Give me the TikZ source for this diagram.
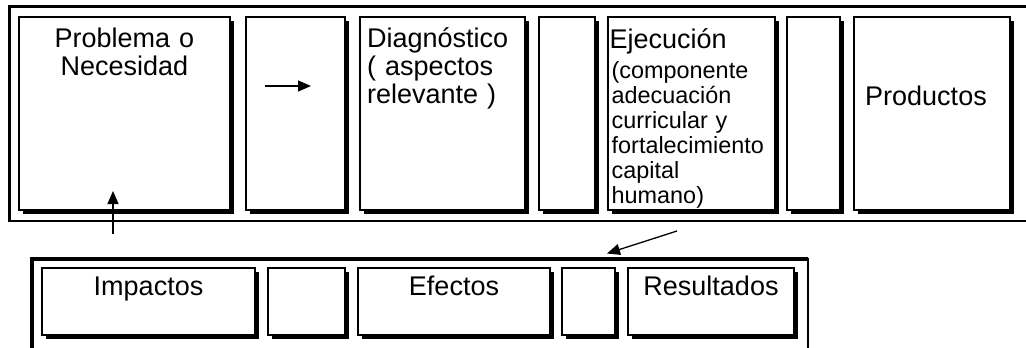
\documentclass[tikz,border=0pt]{standalone}
\usepackage{fontspec}
\setmainfont{Liberation Sans}
\usetikzlibrary{positioning,shadows,arrows.meta}

\begin{document}
\begin{tikzpicture}[x=1pt, y=-1pt,
    celda/.style={rectangle, draw, line width=1.5pt, fill=white, inner sep=0pt, outer sep=0pt,
        drop shadow={shadow xshift=3.5pt, shadow yshift=-3.5pt, fill=black, opacity=1}},
    alta/.style={celda, minimum height=193pt},
    baja/.style={celda, minimum height=67pt},
    texto/.style={inner sep=0pt, text height=19.3pt, align=center, font=\fontsize{27}{28}\selectfont},
    chico/.style={inner sep=0pt, text height=16.8pt, align=left, font=\fontsize{23.4}{25}\selectfont},
    marco/.style={line width=3.5pt},
    flecha/.style={line width=1.3pt, -{Triangle[length=13pt, width=11pt]}}
]
    \useasboundingbox (0,0) rectangle (1026,348);

    % marcos de las dos tablas
    \draw[marco] (1026,6.5) -| (9.5,221);
    \draw[line width=2.5pt] (8,221) -- (1026,221);
    \draw[marco] (32,348) |- (808,259);
    \draw[line width=2pt] (808,257.5) -- (808,348);

    % fila de arriba
    \node[alta, minimum width=211pt] (problema) at (124.5,113.5) {};
    \node[alta, minimum width=99pt] (vacio1) at (295.5,113.5) {};
    \node[alta, minimum width=165pt] (diagnostico) at (442.5,113.5) {};
    \node[alta, minimum width=56pt] (vacio2) at (567,113.5) {};
    \node[alta, minimum width=167pt] (ejecucion) at (691.5,113.5) {};
    \node[alta, minimum width=53pt] (vacio3) at (813.5,113.5) {};
    \node[alta, minimum width=156pt] (productos) at (932,113.5) {};

    \node[texto, text width=190pt, below=10.7pt of problema.north] (problema-t) {Problema o\\Necesidad};
    \node[texto, text width=155pt, align=left, below right=10.7pt and 7pt of diagnostico.north west] (diagnostico-t) {Diagnóstico\\( aspectos\\relevante )};
    \node[texto, below right=11.7pt and 1.5pt of ejecucion.north west] (ejecucion-t) {Ejecución};
    \node[chico, text width=160pt, below right=13.2pt and 2pt of ejecucion-t.base west] (ejecucion-s) {(componente\\adecuación\\curricular y\\fortalecimiento\\capital\\humano)};
    \node[texto, below right=68.7pt and 11pt of productos.north west] (productos-t) {Productos};

    % fila de abajo
    \node[baja, minimum width=213pt] (impactos) at (148.5,301.5) {};
    \node[baja, minimum width=77pt] (vacio4) at (306.5,301.5) {};
    \node[baja, minimum width=192pt] (efectos) at (454,301.5) {};
    \node[baja, minimum width=53pt] (vacio5) at (588.5,301.5) {};
    \node[baja, minimum width=166pt] (resultados) at (711,301.5) {};

    \node[texto, below=7.7pt of impactos.north] (impactos-t) {Impactos};
    \node[texto, below=7.7pt of efectos.north] (efectos-t) {Efectos};
    \node[texto, below=7.7pt of resultados.north] (resultados-t) {Resultados};

    % flechas
    \coordinate (sigue-a) at (265,86);
    \coordinate (sigue-b) at (311,86);
    \coordinate (sube-a) at (113,234);
    \coordinate (sube-b) at (113,191);
    \coordinate (baja-a) at (677,231);
    \coordinate (baja-b) at (607,253.5);
    \draw[flecha] (sigue-a) -- (sigue-b);
    \draw[flecha] (sube-a) -- (sube-b);
    \draw[flecha] (baja-a) -- (baja-b);
\end{tikzpicture}
\end{document}
